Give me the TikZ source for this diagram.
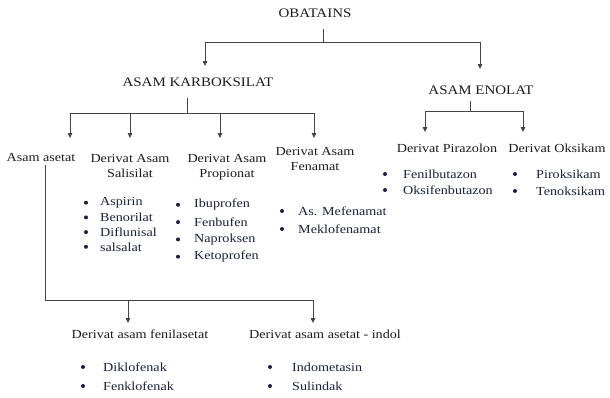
\documentclass[tikz,border=0pt]{standalone}
\usepackage{fontspec}
\setmainfont[FakeStretch=1.15]{Liberation Serif}
\usetikzlibrary{arrows.meta}
\definecolor{linegray}{HTML}{444444}
\definecolor{headink}{HTML}{1C1C1C}
\definecolor{itemink}{HTML}{18223A}
\tikzset{
  head/.style={font=\fontsize{13}{15}\selectfont, text=headink, inner sep=1pt},
  sub/.style={font=\fontsize{12.3}{15}\selectfont, text=headink, align=center, inner sep=1pt},
  item/.style={font=\fontsize{12.3}{14}\selectfont, text=itemink, anchor=west, inner sep=1pt},
  link/.style={draw=linegray, line width=0.8pt},
  arr/.style={link, -{Triangle[length=5pt,width=4.5pt]}},
}
\begin{document}
\begin{tikzpicture}[x=1pt,y=-1pt]
  \useasboundingbox (0,0) rectangle (610,397);
  % class headings
  \node[head] (obat) at (315,13) {OBATAINS};
  \node[head] (karb) at (198,82) {ASAM KARBOKSILAT};
  \node[head] (enol) at (481,90) {ASAM ENOLAT};
  % sub groups
  \node[sub] (asetat) at (41,157) {Asam asetat};
  \node[sub] (salisilat) at (130,166) {Derivat Asam\\Salisilat};
  \node[sub] (propionat) at (227,167) {Derivat Asam\\Propionat};
  \node[sub] (fenamat) at (315,159) {Derivat Asam\\Fenamat};
  \node[sub] (pirazolon) at (447,148) {Derivat Pirazolon};
  \node[sub] (oksikam) at (557,148) {Derivat Oksikam};
  \node[sub] (fenilasetat) at (140,334) {Derivat asam fenilasetat};
  \node[sub] (indol) at (325,334) {Derivat asam asetat - indol};
  % junctions and arrow ends
  \coordinate (obat-bar) at (323,42);
  \coordinate (karb-in) at (205,66);
  \coordinate (enol-in) at (480,69);
  \coordinate (karb-bar) at (187,113);
  \coordinate (asetat-in) at (70,138);
  \coordinate (salisilat-in) at (130,138);
  \coordinate (propionat-in) at (220,138);
  \coordinate (fenamat-in) at (314,138);
  \coordinate (enol-bar) at (470,111);
  \coordinate (pirazolon-in) at (425,132);
  \coordinate (oksikam-in) at (523,132);
  \coordinate (asetat-bar) at (45,300);
  \coordinate (fenilasetat-in) at (128,323);
  \coordinate (indol-in) at (313,323);
  % OBATAINS -> classes
  \draw[link, shorten <=10pt] (obat.south -| obat-bar) -- (obat-bar);
  \draw[arr] (obat-bar) -| (karb-in);
  \draw[arr] (obat-bar) -| (enol-in);
  % karboksilat -> groups
  \draw[link, shorten <=10pt] (karb.south -| karb-bar) -- (karb-bar);
  \foreach \c in {asetat-in, salisilat-in, propionat-in, fenamat-in}
    \draw[arr] (karb-bar) -| (\c);
  % enolat -> groups
  \draw[link, shorten <=5pt] (enol.south -| enol-bar) -- (enol-bar);
  \foreach \c in {pirazolon-in, oksikam-in}
    \draw[arr] (enol-bar) -| (\c);
  % asam asetat -> derivat
  \draw[link, shorten <=3pt] (asetat.south -| asetat-bar) -- (asetat-bar);
  \draw[arr] (asetat-bar) -| (indol-in);
  \draw[arr] (asetat-bar -| fenilasetat-in) -- (fenilasetat-in);
  % drug lists
  \foreach \drug [count=\i] in {Aspirin,Benorilat,Diflunisal,salsalat} {
    \node[item] (salisilat-\i) at (99,188+14.7*\i) {\drug};
    \fill[itemink] ([xshift=-13pt]salisilat-\i.west) circle (2pt);
  }
  \foreach \drug [count=\i] in {Ibuprofen,Fenbufen,Naproksen,Ketoprofen} {
    \node[item] (propionat-\i) at (193,187.5+17.3*\i) {\drug};
    \fill[itemink] ([xshift=-15pt]propionat-\i.west) circle (2pt);
  }
  \foreach \drug [count=\i] in {As. Mefenamat,Meklofenamat} {
    \node[item] (fenamat-\i) at (297,193+18*\i) {\drug};
    \fill[itemink] ([xshift=-15pt]fenamat-\i.west) circle (2pt);
  }
  \foreach \drug [count=\i] in {Fenilbutazon,Oksifenbutazon} {
    \node[item] (pirazolon-\i) at (402,158+16*\i) {\drug};
    \fill[itemink] ([xshift=-17pt]pirazolon-\i.west) circle (2pt);
  }
  \foreach \drug [count=\i] in {Piroksikam,Tenoksikam} {
    \node[item] (oksikam-\i) at (535,157+17*\i) {\drug};
    \fill[itemink] ([xshift=-20pt]oksikam-\i.west) circle (2pt);
  }
  \foreach \drug [count=\i] in {Diklofenak,Fenklofenak} {
    \node[item] (fenilasetat-\i) at (102,348+19*\i) {\drug};
    \fill[itemink] ([xshift=-19pt]fenilasetat-\i.west) circle (2pt);
  }
  \foreach \drug [count=\i] in {Indometasin,Sulindak} {
    \node[item] (indol-\i) at (291,348+19*\i) {\drug};
    \fill[itemink] ([xshift=-21pt]indol-\i.west) circle (2pt);
  }
\end{tikzpicture}
\end{document}
